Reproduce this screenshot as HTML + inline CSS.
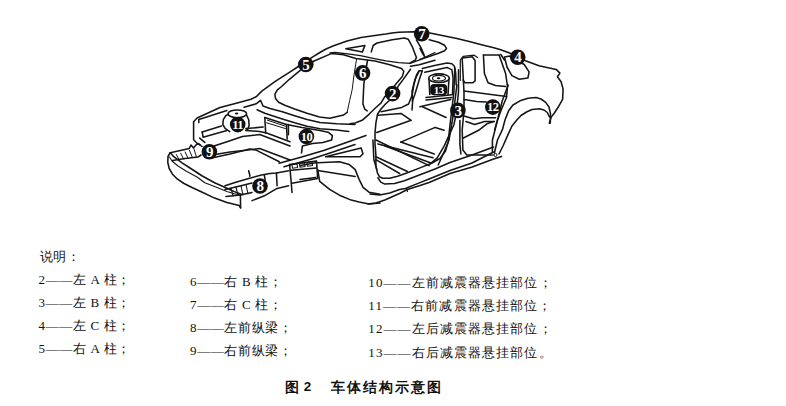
<!DOCTYPE html>
<html><head><meta charset="utf-8"><style>
html,body{margin:0;padding:0;background:#fff;}
body{width:786px;height:406px;position:relative;overflow:hidden;font-family:"Liberation Serif",serif;color:#111;}
svg{position:absolute;left:0;top:0;}
.t{position:absolute;font-size:13px;font-weight:500;white-space:nowrap;line-height:14px;letter-spacing:0.65px;}
.ls{letter-spacing:1.1px;}
.cap{position:absolute;font-family:"Liberation Sans",sans-serif;font-weight:bold;font-size:13.5px;white-space:nowrap;letter-spacing:2px;}
</style></head><body>
<svg width="786" height="406" viewBox="0 0 786 406" fill="none" stroke="#151515" stroke-linejoin="round" stroke-linecap="round">
<polyline points="170.2,152.7 168,156.5 167.8,162.5 169.2,168.5 172.5,174.2 177.5,179.2 184,183.5 192,187.5 202.3,192.3 214.6,198.1 226.9,202.4 239.2,205.5 240.6,207.8" stroke-width="1.55"/>
<polyline points="170.2,152.7 173.8,156.7 181.7,162.6 190,168 202.3,176 214.6,182.8 226.9,188.3 236.7,192.6 241.7,194.4" stroke-width="1.55"/>
<polyline points="169.5,157 172,161 178,166 186,171 197.4,177.2 204.8,182.8 214.6,186.4 226.9,191.4 234.3,193.8 240.5,195" stroke-width="1.1"/>
<polyline points="240.4,195 240.6,208" stroke-width="1.55"/>
<polyline points="170.2,152.7 189.3,148.4 191,145 193.5,148 196.5,144.5 198.5,143.5 202,146.5" stroke-width="1.55"/>
<polyline points="172.5,160.5 185,158.5 197.9,157.1 201,155" stroke-width="1.55"/>
<polyline points="176.3,154.5 179.2,159.8" stroke-width="1.0"/>
<polyline points="180.7,153.3 183.6,159" stroke-width="1.0"/>
<polyline points="185.1,152 188.1,158.3" stroke-width="1.0"/>
<polyline points="189.5,150.5 192.5,157.7" stroke-width="1.0"/>
<polyline points="194,149 196.5,157.2" stroke-width="1.0"/>
<polyline points="193.6,121.7 197.1,118 220,107.5 237.2,102.9 251,99.3 256.5,96.5 261.8,91.1 275.6,81.2 289.4,72.4 298.3,66.5" stroke-width="1.55"/>
<polyline points="198.8,122.6 198.8,119.5 226.9,110.5" stroke-width="1.55"/>
<polyline points="244.1,107.2 256.2,103.8 260.5,100.3 263,106 270,108.5 282.3,111.8 294.6,115.8 307,119.6 320,122.5 336.7,123.8 355,124.5" stroke-width="1.55"/>
<polyline points="257.1,109.8 264.8,113.3 282.3,119 294.6,122.8 307,126.3 320,128.7 336.7,130 348.8,131.4" stroke-width="1.55"/>
<polyline points="193.6,121.7 193.6,139.8 197.1,143.3 200,145" stroke-width="1.55"/>
<polyline points="202.2,132.1 221.5,126" stroke-width="1.55"/>
<polyline points="202.2,132.1 203.1,137.2 226.9,130.5" stroke-width="1.55"/>
<polyline points="199.7,138.1 204.8,142.4" stroke-width="1.55"/>
<path d="M228,113.8 A9.3,3.9 0 1 1 246.6,113.8 A9.3,3.9 0 1 1 228,113.8" stroke-width="1.55"/>
<polyline points="228.3,114.6 225.9,115.5 223.3,119.7 222.8,124.5 225.1,128.4 229.8,131.6" stroke-width="1.55"/>
<polyline points="246.5,114.8 248.7,119.7 249.1,125.3 247.9,129.2 246,130.5" stroke-width="1.55"/>
<polyline points="246,130.5 259.7,131.4 266.6,133.1 290,141.7" stroke-width="1.55"/>
<polyline points="246,128.6 263.1,127.1" stroke-width="1.55"/>
<polyline points="211.7,146.7 230,140.7 242.4,136.6 259.7,134.6 290,146" stroke-width="1.55"/>
<polyline points="215.2,154.5 230,151.9 245.9,150.3 259.7,148.6 290,160" stroke-width="1.55"/>
<polyline points="212.8,157.7 230,153.9 249.7,148.9 255.6,149.9 279.3,161.7" stroke-width="1.55"/>
<polyline points="264.8,117.6 265.7,133.1" stroke-width="1.55"/>
<polyline points="264.8,117.6 286.4,124.5 287.2,139.1" stroke-width="1.55"/>
<polyline points="267.4,120.2 285.5,126.2" stroke-width="1.0"/>
<polyline points="266.6,122.8 285.5,128.6" stroke-width="1.0"/>
<polyline points="286.7,124.5 302,127.5 320,130.5 328.1,132.2 332.4,135.7 331.6,140 322.9,142.6 312.6,143.4 302.4,146 301.5,153" stroke-width="1.55"/>
<polyline points="288.4,134.8 288.4,124.5" stroke-width="1.55"/>
<polyline points="300.2,70.4 289.4,79.3 281,87 277.4,89.9 274.9,94.2 275.5,98.5 278.6,102.2 284.8,105.3 294.6,109 307,113.3 319.5,117 329.8,118.2 343.6,115 347.1,112.4" stroke-width="1.55"/>
<polyline points="313,61.5 331.2,53.6 343.5,54.8 355.8,58.5 375,61.1 389.8,64.8 401.6,68.5 403.8,71.4 402.3,76.6 397.2,82.5 389.8,91.4 384.5,97.1 380.9,103.2 375.9,107.5 369,114.3 362.1,120.3 355.2,122.9 350,123.8" stroke-width="1.55"/>
<polyline points="298.3,66.5 305,62.2 312,57.4 319,53 326,49 333,46 340,43.4 347,41 354,39.2 361,37.6 368,36.4 375,35.4 382,34.6 385.9,34.1 392,33 398.6,32.3 413.9,31.8 422,32.5 429.8,33 444.6,36.1 456.9,38.5 469.2,41.6 481.5,44.7 493.8,47.8 500,49.5 510.6,53.4 518,57 525.4,60.8 539,65.7 556.2,69.4 559.9,73.1 557.4,76.8 561.1,81.7 563.1,89.1 562.6,99.4 558.1,107.3 554.2,113.2 551.2,117.1 549.3,123.1" stroke-width="1.55"/>
<polyline points="330,53 335,52.5 347.7,53.8 360.4,55.7 373.2,58.3 385.9,60.8 398.6,62.7 410.1,63.4 419,60.2 435,52.5" stroke-width="1.3"/>
<polygon points="345.8,48.7 364.9,45.5 362.4,51.9" stroke-width="1.55"/>
<polyline points="371.3,51.9 373.2,45.5 377,43 392.3,39.8 404.3,37.9 408.2,39.2 412.6,47.4 416.4,57.6 415.2,60.2 410.1,63" stroke-width="1.55"/>
<polyline points="416.4,39.8 421.5,48.7 424.1,55.1" stroke-width="1.55"/>
<polyline points="356.5,59.5 354,75 352.2,89.5 349.7,100.3 347.1,112.4" stroke-width="1.0"/>
<polyline points="367.5,60.5 365,75 363.8,85 362.9,104 364.7,109.1 367.2,110.9" stroke-width="1.55"/>
<polyline points="429.2,39.8 438.5,42.2 444.6,45.3 446.5,48.4 444.6,50.8 438.5,53.3 426.2,57.6 420,59.5" stroke-width="1.55"/>
<polyline points="420,48.4 422.5,53.3 424.9,57" stroke-width="1.55"/>
<polyline points="410.5,66.3 419.3,64.8 435,60.3" stroke-width="1.55"/>
<polyline points="410.5,69.2 403.1,79.6 398.6,85.5 391.5,98.5 385.5,104 381,109 377.6,114 375.9,122.9 375,133.3 375,143.6 375.9,155 375.9,165.9 377.4,172.8 379.4,176.7 382.8,178.2 389.7,178.2 397.6,176.2 407.4,172.8 420,167.9 432,163 440,158.5 445.5,151 448.2,141.7 450,125 453.9,92 454.8,67.9" stroke-width="1.55"/>
<polyline points="381,111.7 401.7,107.4 408.6,104 412.1,95.3 413.8,85 416.5,75 419.3,70.7" stroke-width="1.55"/>
<polyline points="412.5,101 412,91.4 414.9,79.6 419.3,70.7 422.3,70.7" stroke-width="1.55"/>
<polyline points="422.3,70.7 419.3,79.6 414.9,94.3 412.7,100.2 412,110" stroke-width="1.55"/>
<polyline points="422.3,68.6 434.6,65.5 447,63.1 451.9,63.7 454.4,66.2 455.6,72.3 456.2,85" stroke-width="1.55"/>
<polyline points="424.8,72.3 447,67.4 451.9,69.9 453.1,78.5 452.5,94.5" stroke-width="1.55"/>
<path d="M428.7,78.2 A10.3,4.3 0 1 1 449.3,78.2 A10.3,4.3 0 1 1 428.7,78.2" stroke-width="1.55"/>
<path d="M432.5,78.2 A6.5,2.8 0 1 1 445.5,78.2 A6.5,2.8 0 1 1 432.5,78.2" stroke-width="1.1"/>
<polyline points="429,79 429.8,94.5" stroke-width="1.55"/>
<polyline points="449,79 448,94.5" stroke-width="1.55"/>
<polyline points="426,97.5 451.9,94.8" stroke-width="1.55"/>
<polyline points="426,100 451.9,97.5" stroke-width="1.55"/>
<polyline points="419.9,106.8 450.7,99.4" stroke-width="1.55"/>
<polyline points="458.5,69.8 458.5,92 456,115 453.8,125 444.1,146.1 437.2,157.9 430.3,163.8" stroke-width="1.55"/>
<polyline points="462.2,58.7 464,92 464,110.5 462.2,130 462.9,150 466.8,155 492.4,155" stroke-width="1.55"/>
<polyline points="460.3,80.5 460.3,60.1 463.1,56.4 474.2,55.2 477.5,57.5" stroke-width="1.2"/>
<polyline points="483.4,55 499.1,55" stroke-width="1.3"/>
<polyline points="462.2,58 472.3,56.8 475.1,60.5 475.1,80.9 473,82.7 465,82.7 463,80" stroke-width="1.55"/>
<polyline points="483.4,55 484.4,73.5 488.1,82.7 495.5,85.5 505.6,86.4" stroke-width="1.55"/>
<polyline points="499.1,55 505.6,73.5 507.5,86.4 506.5,97.5 501,110.5 497.5,120 494.6,130" stroke-width="1.55"/>
<polygon points="504.5,57.1 510,56 524.2,64.5 529.1,71.9 527.9,78 519.3,79.3 511.9,75.6 507,67" stroke-width="1.55"/>
<polyline points="500.8,54.5 504.5,60" stroke-width="1.55"/>
<polyline points="464,91 506.5,96.6" stroke-width="1.55"/>
<polyline points="464,99.4 476.7,101.5 486.2,102.1" stroke-width="1.55"/>
<polyline points="464,116 473.3,118.8 482.5,117.8 495.5,117.8" stroke-width="1.55"/>
<polyline points="465.9,121.5 474.7,124.5 484.6,121.5 494.4,121.5" stroke-width="1.55"/>
<polyline points="462.9,138.2 478.6,130.3 487.5,123.4 494,121.5" stroke-width="1.55"/>
<polyline points="494.4,153 497.5,140 502.4,129.7 505,120 508.8,110.4 513,105 520,100.8 528,98.2 536,97.6 541,99 545.7,102.4 549,107 550.5,113.6 550.3,123.3" stroke-width="1.55"/>
<polyline points="499,154 503,146 508.8,132.9 512,126 516.8,120 521,115.5 526.5,112 532,109.5 539.3,108.8 544,110 547.3,112.5 549.5,117" stroke-width="1.55"/>
<path d="M493.8,155 A1.6,1.6 0 1 1 497,155 A1.6,1.6 0 1 1 493.8,155" stroke-width="1.0"/>
<polyline points="508.2,85 502.3,100.8 497.4,120.5 492.4,140.2 492.4,152" stroke-width="1.55"/>
<polyline points="377.6,115.2 401,113.4 411.2,120.3 376.7,132.4" stroke-width="1.55"/>
<polyline points="422.4,106.7 446.1,117.5" stroke-width="1.55"/>
<polyline points="400.8,142.1 435.2,127.4 444.1,130.3" stroke-width="1.55"/>
<polyline points="400.8,142.1 434.3,154" stroke-width="1.55"/>
<polyline points="385,146.1 430.3,162.8" stroke-width="1.55"/>
<polyline points="375.9,140 429.1,165.6" stroke-width="1.55"/>
<polyline points="377.9,143.9 433,157.7" stroke-width="1.55"/>
<polyline points="375.9,156.7 407.4,171.5" stroke-width="1.55"/>
<polyline points="375.9,159.7 399.6,173.5" stroke-width="1.55"/>
<polyline points="456.9,85 453,116.5 449,140.2 444,152 438.2,165" stroke-width="1.55"/>
<polyline points="459.9,120.5 459.9,144.1 460.9,154" stroke-width="1.55"/>
<polyline points="406.5,188.5 407.5,191.5" stroke-width="1.1"/>
<polyline points="368,204 376,203 384.8,200 399.5,193.5 407.4,189.5 420,185.6 429.1,182.5 450,173.5 472.2,167.1 493.6,159.1 501.6,156.4" stroke-width="1.55"/>
<polyline points="370,194 379.8,194.9 389.7,193 399.5,189.5 405.4,188.5 420,182.6 429.1,179 450,170.5 472,163 493.6,152" stroke-width="1.55"/>
<polyline points="377.9,177.7 380.8,182.1 384.8,184.1 394.6,183.6 404.4,180.7 420,174.8 435,169 450,162.5 472,155 493.6,147" stroke-width="1.55"/>
<polyline points="317.7,162.7 339.4,161.7 349.3,164.6 355.2,169.6 359.1,179.4 363.1,187.3 369,192.2 380,194.2" stroke-width="1.55"/>
<polyline points="317.7,169.6 319.7,181.4 329.6,189.3 339.4,195.2 351.2,200.1 359.1,202.1 369,204 380,203.1" stroke-width="1.55"/>
<polyline points="317.7,170.5 355.2,176.5" stroke-width="1.55"/>
<polygon points="325.6,156.7 361.1,147.9 363,153.8 360.1,156.7" stroke-width="1.55"/>
<polyline points="279.1,163.3 300,157.5 323.6,150.4 345,143 366,135.5" stroke-width="1.55"/>
<polyline points="284,166.8 310,159.5 330,153 355,144.5" stroke-width="1.55"/>
<polyline points="372.9,140 373.9,159.7 376.8,169.6" stroke-width="1.55"/>
<polyline points="300,165.6 315.8,162.7" stroke-width="1.55"/>
<polyline points="300,179.4 315.8,177.4" stroke-width="1.55"/>
<polyline points="289.6,164.4 316.5,160.9 317.7,178.5 292,183.2" stroke-width="1.55"/>
<polyline points="290.8,170.3 316.5,168" stroke-width="1.55"/>
<polyline points="289.6,164.4 291,180 292,192.5" stroke-width="1.55"/>
<polygon points="292,164.5 297,163.8 297.5,167.5 292.5,168.2" stroke-width="1.1"/>
<polygon points="299.5,163.5 304.5,162.8 305,166.5 300,167.2" stroke-width="1.1"/>
<polygon points="307,162.5 312,161.8 312.5,165.5 307.5,166.2" stroke-width="1.1"/>
<polyline points="225,185.7 235,182.5 248.7,178.5 261.5,174.9 270,173.5 276.4,172.9 288.6,170.8" stroke-width="1.55"/>
<polyline points="225,189.5 240,186 252,183" stroke-width="1.55"/>
<polyline points="226,196.5 240,195 252,192.5" stroke-width="1.55"/>
<polyline points="252.1,200.6 265.6,195.2 277.1,188.4 288.6,185.7" stroke-width="1.55"/>
<polyline points="276.4,172.9 277.1,185.7" stroke-width="1.55"/>
<polyline points="264.3,174.9 266,186" stroke-width="1.55"/>
<polyline points="248.7,170.8 250,176.2" stroke-width="1.55"/>
<polyline points="231,188 233,196" stroke-width="1.1"/>
<polyline points="236,187 238,195.5" stroke-width="1.1"/>
<polyline points="241,186 243,195" stroke-width="1.1"/>
<polyline points="246,184.5 248,194" stroke-width="1.1"/>
<circle cx="237.7" cy="124.6" r="7.8" fill="#111" stroke="none"/>
<text x="237.7" y="128.85" font-family="Liberation Serif" font-size="12.5" font-weight="bold" fill="#fff" stroke="none" text-anchor="middle" letter-spacing="-0.5">11</text>
<circle cx="209.4" cy="151.8" r="7.8" fill="#111" stroke="none"/>
<text x="209.4" y="156.9" font-family="Liberation Serif" font-size="15" font-weight="bold" fill="#fff" stroke="none" text-anchor="middle" letter-spacing="-0.5">9</text>
<circle cx="260" cy="186" r="7.8" fill="#111" stroke="none"/>
<text x="260" y="191.1" font-family="Liberation Serif" font-size="15" font-weight="bold" fill="#fff" stroke="none" text-anchor="middle" letter-spacing="-0.5">8</text>
<circle cx="306.4" cy="136.5" r="7.8" fill="#111" stroke="none"/>
<text x="306.4" y="140.75" font-family="Liberation Serif" font-size="12.5" font-weight="bold" fill="#fff" stroke="none" text-anchor="middle" letter-spacing="-0.5">10</text>
<circle cx="305.8" cy="64.5" r="7.8" fill="#111" stroke="none"/>
<text x="305.8" y="69.6" font-family="Liberation Serif" font-size="15" font-weight="bold" fill="#fff" stroke="none" text-anchor="middle" letter-spacing="-0.5">5</text>
<circle cx="362.6" cy="72.9" r="7.8" fill="#111" stroke="none"/>
<text x="362.6" y="78.0" font-family="Liberation Serif" font-size="15" font-weight="bold" fill="#fff" stroke="none" text-anchor="middle" letter-spacing="-0.5">6</text>
<circle cx="421.7" cy="33.7" r="7.8" fill="#111" stroke="none"/>
<text x="421.7" y="38.800000000000004" font-family="Liberation Serif" font-size="15" font-weight="bold" fill="#fff" stroke="none" text-anchor="middle" letter-spacing="-0.5">7</text>
<circle cx="392.6" cy="93.6" r="7.8" fill="#111" stroke="none"/>
<text x="392.6" y="98.69999999999999" font-family="Liberation Serif" font-size="15" font-weight="bold" fill="#fff" stroke="none" text-anchor="middle" letter-spacing="-0.5">2</text>
<circle cx="457.9" cy="110.4" r="7.8" fill="#111" stroke="none"/>
<text x="457.9" y="115.5" font-family="Liberation Serif" font-size="15" font-weight="bold" fill="#fff" stroke="none" text-anchor="middle" letter-spacing="-0.5">3</text>
<circle cx="492.8" cy="107.1" r="7.8" fill="#111" stroke="none"/>
<text x="492.8" y="111.35" font-family="Liberation Serif" font-size="12.5" font-weight="bold" fill="#fff" stroke="none" text-anchor="middle" letter-spacing="-0.5">12</text>
<circle cx="517.7" cy="57.3" r="7.8" fill="#111" stroke="none"/>
<text x="517.7" y="62.4" font-family="Liberation Serif" font-size="15" font-weight="bold" fill="#fff" stroke="none" text-anchor="middle" letter-spacing="-0.5">4</text>
<rect x="430.2" y="84" width="17" height="11.3" rx="4" fill="#111" stroke="none"/><text x="438.8" y="93.6" font-family="Liberation Serif" font-size="11" font-weight="bold" fill="#fff" stroke="none" text-anchor="middle" letter-spacing="-0.5">13</text><ellipse cx="438.6" cy="78.2" rx="1.8" ry="1" fill="#111" stroke="none"/>
<ellipse cx="236.6" cy="113.5" rx="1.7" ry="1.1" fill="#111" stroke="none"/>
</svg>
<div class="t " style="left:39.5px;top:250px">说明：</div>
<div class="t " style="left:38.5px;top:272.5px">2——左 A 柱；</div>
<div class="t " style="left:190px;top:274.5px">6——右 B 柱；</div>
<div class="t ls" style="left:368.3px;top:276.0px">10——左前减震器悬挂部位；</div>
<div class="t " style="left:38.5px;top:295.5px">3——左 B 柱；</div>
<div class="t " style="left:190px;top:297.5px">7——右 C 柱；</div>
<div class="t ls" style="left:368.3px;top:299.0px">11——右前减震器悬挂部位；</div>
<div class="t " style="left:38.5px;top:318.5px">4——左 C 柱；</div>
<div class="t " style="left:190px;top:320.5px">8——左前纵梁；</div>
<div class="t ls" style="left:368.3px;top:322.0px">12——左后减震器悬挂部位；</div>
<div class="t " style="left:38.5px;top:342px">5——右 A 柱；</div>
<div class="t " style="left:190px;top:344px">9——右前纵梁；</div>
<div class="t ls" style="left:368.3px;top:345.5px">13——右后减震器悬挂部位。</div>
<div class="cap" style="left:285px;top:378.5px">图</div><div class="cap" style="left:303.7px;top:378.5px">2</div><div class="cap" style="left:330.5px;top:378.5px">车体结构示意图</div>
</body></html>
